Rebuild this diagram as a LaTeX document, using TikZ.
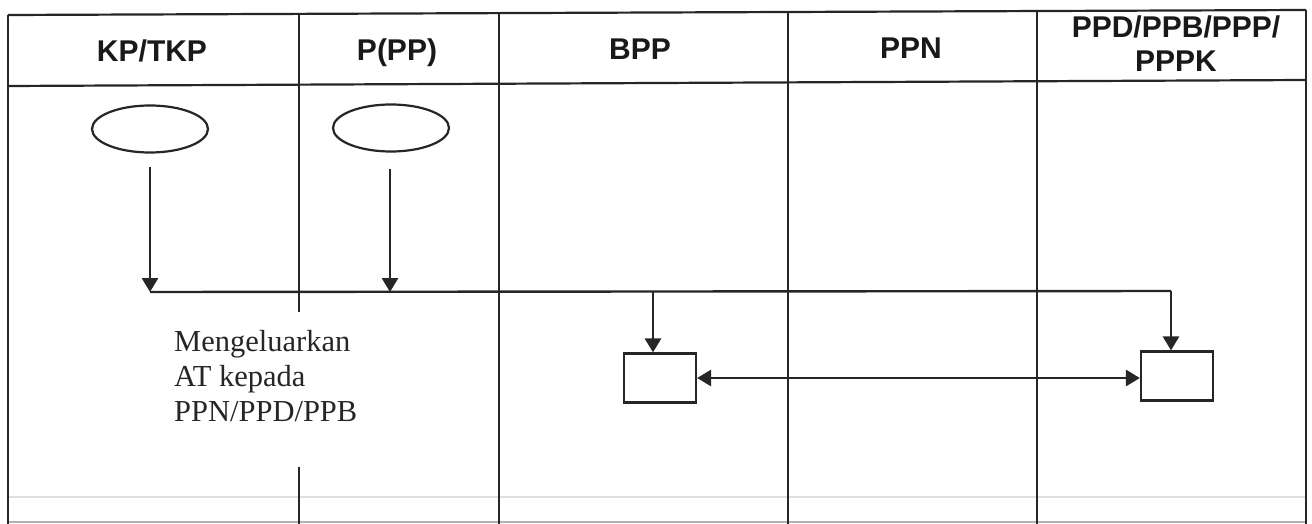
\documentclass[tikz,border=0pt]{standalone}
\usepackage{fontspec}
\setmainfont{Liberation Serif}
\newfontfamily\hdrfont{Liberation Sans}
\usetikzlibrary{arrows.meta,shapes.geometric}
\begin{document}
\begin{tikzpicture}[x=1pt,y=-1pt,
  grid/.style={line width=2.2pt,draw=black!85},
  faint/.style={line width=2.5pt,draw=black!12},
  hdr/.style={font=\hdrfont\bfseries\fontsize{30}{34}\selectfont,align=center,text=black!90,anchor=base,inner sep=0pt},
  oval/.style={draw=black!85,line width=2.2pt,ellipse,minimum width=116pt,minimum height=47pt,inner sep=0pt},
  boxnode/.style={draw=black!85,line width=2.2pt,rectangle,minimum width=72pt,minimum height=49pt,inner sep=0pt},
  conn/.style={line width=2.8pt,draw=black!85},
  arr/.style={conn,-{Triangle[length=14pt,width=16pt]}},
  arrboth/.style={conn,{Triangle[length=14pt,width=16pt]}-{Triangle[length=14pt,width=16pt]}},
  body/.style={font=\fontsize{30.5}{35}\selectfont,align=left,anchor=base west,inner sep=0pt,text=black!85}
]
\useasboundingbox (0,0) rectangle (1312,524);
\fill[white] (0,0) rectangle (1312,524);

% table frame
\coordinate (tl) at (8,15);
\coordinate (tr) at (1306,10);
\coordinate (hl) at (8,86);
\coordinate (hr) at (1306,80);
\draw[grid] (tl) -- (tr);
\draw[grid] (hl) -- (hr);
\draw[faint] (8,497) -- (1306,497);
\draw[line width=1.2pt,draw=black!30] (8,522) -- (1306,522);
\draw[grid] (8,15) -- (8,524);
\draw[grid,line width=1.4pt] (1306,10) -- (1306,524);
% column separators
\draw[grid] (299,14) -- (299,312);
\draw[grid] (299,467) -- (299,524);
\draw[grid] (499,13) -- (499,524);
\draw[grid] (788,12) -- (788,524);
\draw[grid] (1037,11) -- (1037,524);

% headers
\node[hdr] (h1) at (152,62) {KP/TKP};
\node[hdr] (h2) at (397,61) {P(PP)};
\node[hdr] (h3) at (640,60) {BPP};
\node[hdr] (h4) at (911,59) {PPN};
\node[hdr] (h5) at (1176,72) {PPD/PPB/PPP/\\PPPK};

% shapes
\node[oval] (e1) at (150,129) {};
\node[oval] (e2) at (391,128) {};
\node[boxnode] (b1) at (660,378) {};
\node[boxnode] (b2) at (1177,376) {};

% junctions
\coordinate (j1) at (150,292);
\coordinate (j2) at (390,292);
\coordinate (j3) at (653,292);
\coordinate (j4) at (1171,291);

\draw[arr,shorten <=13pt] (e1.south) -- (j1);
\draw[arr,shorten <=16pt] (e2.south -| j2) -- (j2);
\draw[conn,line width=2.4pt] (j1) -- (j4);
\draw[arr] (j4) -- (j4 |- b2.north);
\draw[arr] (j3) -- (j3 |- b1.north);
\draw[arrboth] (b1.east) -- (b1.east -| b2.west);

% text
\node[body] (t1) at (174,421) {Mengeluarkan\\AT kepada\\PPN/PPD/PPB};
\end{tikzpicture}
\end{document}
